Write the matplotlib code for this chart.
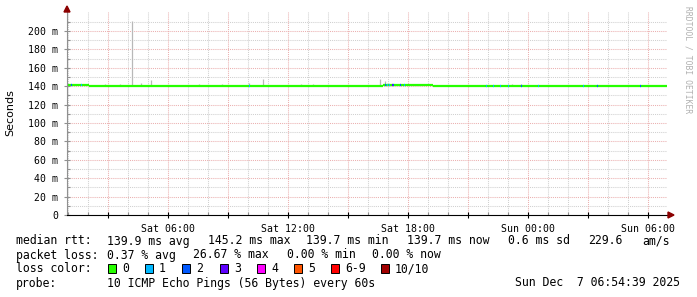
import matplotlib
matplotlib.use('Agg')
import matplotlib.pyplot as plt
from matplotlib.patches import Polygon, Rectangle

# time axis in hours since Sat 00:00
tick_hours = [6, 12, 18, 24, 30]
tick_labels = ['Sat 06:00', 'Sat 12:00', 'Sat 18:00', 'Sun 00:00', 'Sun 06:00']

# median rtt (ms) per segment
seg_start = [0.95, 2.05, 16.75, 19.25]
seg_end = [2.05, 16.75, 19.25, 30.95]
seg_median = [141.7, 139.8, 140.8, 139.8]

# loss events along the median line (hour, lost pings)
loss_hours = [1.15, 1.65, 10.05, 16.85, 16.95, 17.05, 17.2, 17.25, 17.6, 17.8,
              21.9, 22.25, 22.6, 23.0, 23.65, 24.5, 26.75, 27.45, 29.6]
loss_count = [2, 1, 1, 2, 1, 1, 3, 2, 2, 1,
              1, 1, 1, 1, 2, 1, 1, 2, 2]

# smoke outliers (hour, max rtt ms)
spike_hours = [2.85, 3.6, 4.2, 4.65, 5.15, 7.55, 8.7, 10.05, 10.75, 12.65,
               13.25, 16.6, 16.85, 18.45, 23.2, 23.65]
spike_max = [142.5, 142.0, 211.0, 144.0, 146.5, 142.5, 142.5, 144.0, 147.5, 142.0,
             142.5, 148.0, 146.0, 142.5, 142.5, 142.5]

loss_labels = ['0', '1', '2', '3', '4', '5', '6-9', '10/10']
loss_colors = ['#26ff00', '#00b8ff', '#0059ff', '#5e00ff', '#ff00ff', '#ff5500', '#ff0000', '#a10000']

W, H = 697, 297
mono = 'DejaVu Sans Mono'

fig = plt.figure(figsize=(W / 100, H / 100), dpi=100)
fig.patch.set_facecolor('white')

def fx(px):
    return px / W

def fy(py):
    return 1 - py / H

ax = fig.add_axes([fx(67), fy(215), 600 / W, 203 / H])
ax.set_xlim(0.95, 30.95)
ax.set_ylim(0, 203 / 0.92)

# grid
for h in range(1, 31):
    if h % 3:
        ax.axvline(h, color='#d0d0d0', lw=0.75, ls=(0, (1, 1)), zorder=0)
for v in range(10, 220, 20):
    ax.axhline(v, color='#d0d0d0', lw=0.75, ls=(0, (1, 1)), zorder=0)
for h in range(3, 31, 3):
    ax.axvline(h, color='#ebb0b0', lw=0.75, ls=(0, (1, 1)), zorder=0)
for v in range(20, 220, 20):
    ax.axhline(v, color='#ebb0b0', lw=0.75, ls=(0, (1, 1)), zorder=0)

def median_at(h):
    for s, e, m in zip(seg_start, seg_end, seg_median):
        if s <= h < e:
            return m
    return seg_median[-1]

# smoke
for h, top in zip(spike_hours, spike_max):
    ax.vlines(h, median_at(h), top, color='#b8b8b8', lw=0.9, zorder=1)

# median line
for s, e, m in zip(seg_start, seg_end, seg_median):
    ax.hlines(m, s, e, color=loss_colors[0], lw=1.6, zorder=2)
for h, n in zip(loss_hours, loss_count):
    ax.hlines(median_at(h), h, h + 0.06, color=loss_colors[n], lw=1.6, zorder=3)

# axes
for side in ['top', 'right']:
    ax.spines[side].set_visible(False)
ax.spines['left'].set_color('#909090')
ax.spines['bottom'].set_color('black')
ax.spines['left'].set_linewidth(0.8)
ax.spines['bottom'].set_linewidth(0.8)

ax.set_xticks(range(3, 31, 3))
ax.set_xticks(range(1, 31), minor=True)
ax.set_xticklabels(['' if h % 6 else tick_labels[tick_hours.index(h)] for h in range(3, 31, 3)],
                   fontfamily=mono, fontsize=7.1)
yt = list(range(0, 201, 20))
ax.set_yticks(yt)
ax.set_yticks(range(10, 220, 10), minor=True)
ax.set_yticklabels(['0' if v == 0 else '%d m' % v for v in yt], fontfamily=mono, fontsize=7.1)
ax.tick_params(axis='both', which='major', direction='inout', length=5, width=0.8, color='#909090', pad=4)
ax.tick_params(axis='both', which='minor', direction='in', length=2, width=0.8, color='#909090')
ax.tick_params(axis='x', which='major', color='black')

fig.text(fx(10), fy(113), 'Seconds', rotation=90, fontsize=8, ha='center', va='center')

# axis arrows
fig.add_artist(Polygon([(fx(64), fy(12)), (fx(70), fy(12)), (fx(67), fy(6))],
                       closed=True, color='#8b0000', transform=fig.transFigure))
fig.add_artist(Polygon([(fx(668), fy(212)), (fx(668), fy(218)), (fx(674), fy(215))],
                       closed=True, color='#8b0000', transform=fig.transFigure))

# watermark
fig.text(fx(688), fy(6), 'RRDTOOL / TOBI OETIKER', rotation=270, fontfamily=mono,
         fontsize=5.8, color='#b0b0b0', ha='center', va='top')

# legend text
fs = 8.3
def put(px, py, s, ha='left'):
    fig.text(fx(px), fy(py), s, fontfamily=mono, fontsize=fs, ha=ha, va='center')

put(16, 241, 'median rtt:')
put(107, 241, '139.9 ms avg')
put(208, 241, '145.2 ms max')
put(306, 241, '139.7 ms min')
put(407, 241, '139.7 ms now')
put(508, 241, '0.6 ms sd')
put(588, 241, '229.6')
put(642, 241, 'am/s')

put(16, 255, 'packet loss:')
put(107, 255, '0.37 % avg')
put(193, 255, '26.67 % max')
put(287, 255, '0.00 % min')
put(372, 255, '0.00 % now')

put(16, 269, 'loss color:')
box_x = [108, 145, 182, 220, 257, 294, 331, 381]
for bx, lab, col in zip(box_x, loss_labels, loss_colors):
    fig.add_artist(Rectangle((fx(bx), fy(273)), 8 / W, 9 / H, facecolor=col,
                             edgecolor='black', lw=0.7, transform=fig.transFigure))
    put(bx + 14, 269, lab)

put(16, 283, 'probe:')
put(107, 283, '10 ICMP Echo Pings (56 Bytes) every 60s')
put(680, 283, 'Sun Dec  7 06:54:39 2025', ha='right')

fig.savefig('out.png', dpi=100)
